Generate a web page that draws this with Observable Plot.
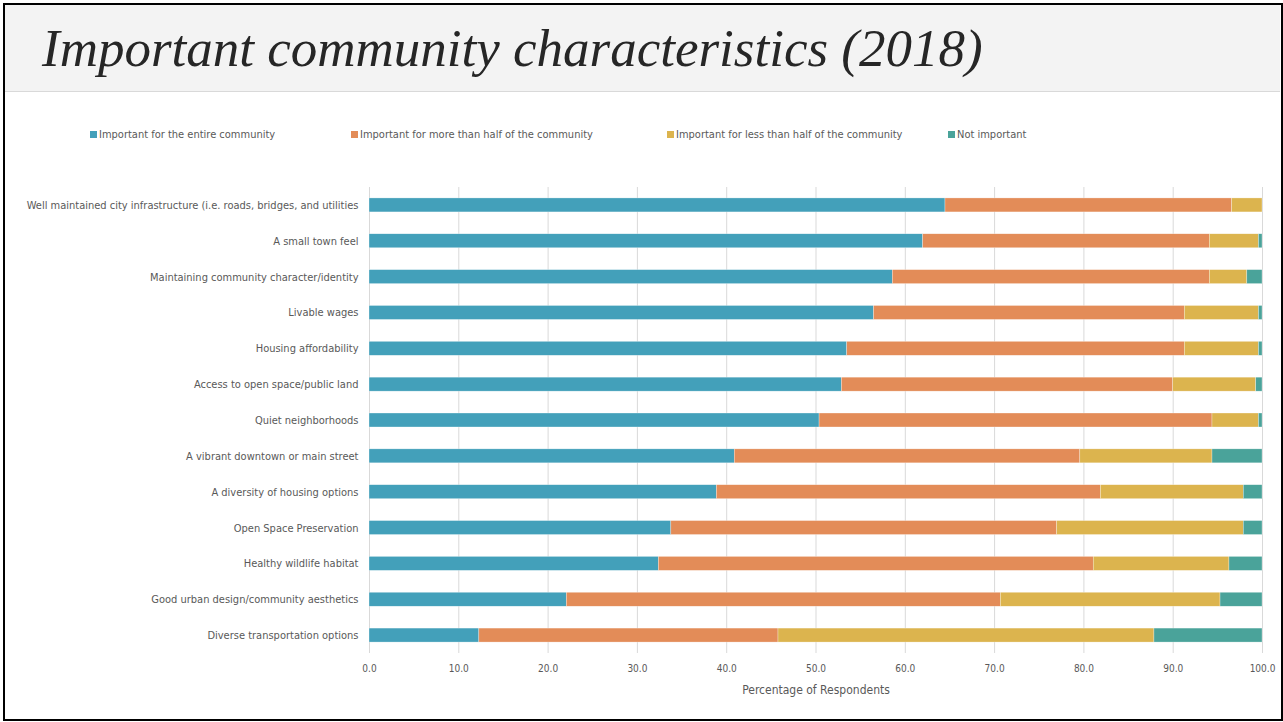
<!DOCTYPE html>
<html>
<head>
<meta charset="utf-8">
<script src="https://cdn.jsdelivr.net/npm/d3@7"></script>
<script src="https://cdn.jsdelivr.net/npm/@observablehq/plot@0.6"></script>
<style>
  html, body { margin: 0; padding: 0; background: #fff; width: 1283px; height: 722px; overflow: hidden; }
  #band { position: absolute; left: 5px; top: 5px; width: 1275px; height: 86px; background: #f3f3f3; border-bottom: 1px solid #d9d9d9; }
  #title { position: absolute; left: 42px; top: 22px; margin: 0; font-family: "Liberation Serif", "DejaVu Serif", serif; font-style: italic; font-weight: normal; font-size: 53px; line-height: 52px; color: #262626; white-space: nowrap; }
  .lg { position: absolute; top: 127px; height: 14px; display: flex; align-items: center; font-family: "Liberation Sans Narrow", "DejaVu Sans Condensed", sans-serif; font-size: 11px; color: #595959; white-space: nowrap; }
  .lg span.sw { width: 7px; height: 7px; margin-right: 2px; display: inline-block; }
  #chart { position: absolute; left: 0; top: 150px; }
  #frame { position: absolute; left: 3px; top: 3px; width: 1276px; height: 714px; border: 2px solid #000; pointer-events: none; z-index: 10; }
</style>
</head>
<body>
<div id="band"></div>
<h1 id="title">Important community characteristics (2018)</h1>
<div id="legend"></div>
<div id="chart"></div>
<div id="frame"></div>
<script>
// ---- data ----
const items = [
  "Well maintained city infrastructure (i.e. roads, bridges, and utilities",
  "A small town feel",
  "Maintaining community character/identity",
  "Livable wages",
  "Housing affordability",
  "Access to open space/public land",
  "Quiet neighborhoods",
  "A vibrant downtown or main street",
  "A diversity of housing options",
  "Open Space Preservation",
  "Healthy wildlife habitat",
  "Good urban design/community aesthetics",
  "Diverse transportation options"
];
const categories = [
  "Important for the entire community",
  "Important for more than half of the community",
  "Important for less than half of the community",
  "Not important"
];
const importantEntire = [64.5, 62.0, 58.6, 56.5, 53.5, 52.9, 50.4, 40.9, 38.9, 33.8, 32.4, 22.1, 12.3];
const moreThanHalf    = [32.1, 32.1, 35.5, 34.8, 37.8, 37.1, 44.0, 38.7, 43.0, 43.2, 48.7, 48.6, 33.5];
const lessThanHalf    = [3.4, 5.5, 4.2, 8.3, 8.3, 9.3, 5.2, 14.8, 16.0, 20.9, 15.2, 24.6, 42.1];
const notImportant    = [0.0, 0.4, 1.7, 0.4, 0.4, 0.7, 0.4, 5.6, 2.1, 2.1, 3.7, 4.7, 12.1];
const colors = ["#43a0ba", "#e38c58", "#dcb44e", "#4aa39a"];
const xTicks = [0, 10, 20, 30, 40, 50, 60, 70, 80, 90, 100];
const xLabel = "Percentage of Respondents";

// ---- table for the library ----
const series = [importantEntire, moreThanHalf, lessThanHalf, notImportant];
const data = [];
items.forEach((item, i) => {
  categories.forEach((cat, j) => {
    data.push({item, cat, value: series[j][i]});
  });
});

// ---- legend ----
const legendX = [90, 351, 667, 948];
const legend = document.getElementById("legend");
categories.forEach((c, i) => {
  const d = document.createElement("div");
  d.className = "lg";
  d.style.left = legendX[i] + "px";
  d.innerHTML = `<span class="sw" style="background:${colors[i]}"></span>${c}`;
  legend.appendChild(d);
});

// ---- chart ----
const font = '"Liberation Sans Narrow", "DejaVu Sans Condensed", sans-serif';
const chart = Plot.plot({
  width: 1283,
  height: 560,
  marginLeft: 369,
  marginRight: 21,
  marginTop: 37,
  marginBottom: 57,
  style: {fontFamily: font, fontSize: "11px", color: "#595959", background: "transparent"},
  x: {domain: [0, 100]},
  y: {domain: items, paddingInner: 0.61, paddingOuter: 0.305, round: false},
  color: {domain: categories, range: colors},
  marks: [
    Plot.ruleX(xTicks, {stroke: "#d9d9d9", strokeWidth: 1}),
    Plot.barX(data, {x: "value", y: "item", fill: "cat", stroke: "#ffffff", strokeWidth: 0.5, strokeOpacity: 0.6}),
    Plot.axisX({ticks: xTicks, tickSize: 0, tickPadding: 11, tickFormat: d => d.toFixed(1), label: null, fontSize: 10}),
    Plot.axisY({tickSize: 0, tickPadding: 11, label: null}),
    Plot.text([xLabel], {frameAnchor: "bottom", dy: 40, text: d => d, fontSize: 12, fill: "#595959"})
  ]
});
document.getElementById("chart").appendChild(chart);
</script>
</body>
</html>
